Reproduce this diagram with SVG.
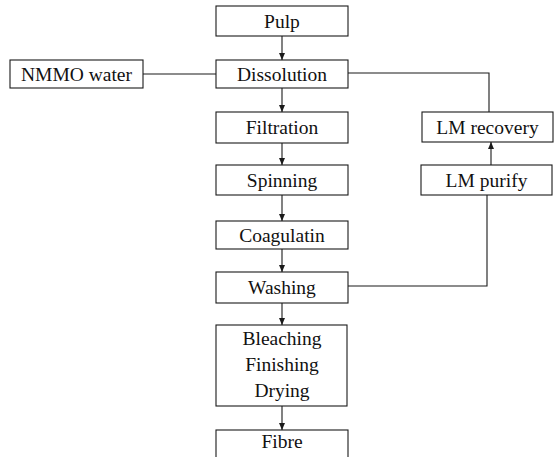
<svg xmlns="http://www.w3.org/2000/svg" width="558" height="457" viewBox="0 0 558 457">
<defs>
<style>
.box{fill:#fff;stroke:#1a1a1a;stroke-width:1.1}
.lbl{font-family:"Liberation Serif","Times New Roman",serif;font-size:19.5px;fill:#111;text-anchor:middle}
.ln{fill:none;stroke:#1a1a1a;stroke-width:1.1}
</style>
<marker id="ah" viewBox="0 0 7 6" refX="7" refY="3" markerWidth="7" markerHeight="6" markerUnits="userSpaceOnUse" orient="auto">
<path d="M0,0 L7,3 L0,6 z" fill="#1a1a1a"/>
</marker>
</defs>
<rect width="558" height="457" fill="#fff"/>
<g id="connectors">
<line class="ln" x1="282" y1="36" x2="282" y2="60" marker-end="url(#ah)"/>
<line class="ln" x1="282" y1="88" x2="282" y2="112" marker-end="url(#ah)"/>
<line class="ln" x1="282" y1="143" x2="282" y2="165" marker-end="url(#ah)"/>
<line class="ln" x1="282" y1="195" x2="282" y2="221" marker-end="url(#ah)"/>
<line class="ln" x1="282" y1="249" x2="282" y2="272" marker-end="url(#ah)"/>
<line class="ln" x1="282" y1="303" x2="282" y2="325" marker-end="url(#ah)"/>
<line class="ln" x1="282" y1="406" x2="282" y2="430" marker-end="url(#ah)"/>
<line class="ln" x1="143" y1="74" x2="216" y2="74"/>
<polyline class="ln" points="348,73 489,73 489,112"/>
<line class="ln" x1="491" y1="165" x2="491" y2="142" marker-end="url(#ah)"/>
<polyline class="ln" points="348,286 487,286 487,195"/>
</g>
<g id="pulp"><rect class="box" x="216" y="6" width="132" height="30"/><text class="lbl" x="282" y="27.5">Pulp</text></g>
<g id="nmmo"><rect class="box" x="10" y="60" width="133" height="28"/><text class="lbl" x="76.5" y="80.5">NMMO water</text></g>
<g id="dissolution"><rect class="box" x="216" y="60" width="132" height="28"/><text class="lbl" x="282" y="80.5">Dissolution</text></g>
<g id="filtration"><rect class="box" x="216" y="112" width="132" height="31"/><text class="lbl" x="282" y="134">Filtration</text></g>
<g id="spinning"><rect class="box" x="216" y="165" width="132" height="30"/><text class="lbl" x="282" y="186.5">Spinning</text></g>
<g id="coagulatin"><rect class="box" x="216" y="221" width="132" height="28"/><text class="lbl" x="282" y="241.5">Coagulatin</text></g>
<g id="washing"><rect class="box" x="216" y="272" width="132" height="31"/><text class="lbl" x="282" y="294">Washing</text></g>
<g id="bleaching"><rect class="box" x="216" y="325" width="131" height="81"/><text class="lbl" x="282" y="345">Bleaching</text><text class="lbl" x="282" y="371">Finishing</text><text class="lbl" x="282" y="397">Drying</text></g>
<g id="fibre"><rect class="box" x="216" y="430" width="132" height="40"/><text class="lbl" x="282" y="448">Fibre</text></g>
<g id="lmrecovery"><rect class="box" x="422" y="112" width="131" height="30"/><text class="lbl" x="487.5" y="133.5">LM recovery</text></g>
<g id="lmpurify"><rect class="box" x="421" y="165" width="131" height="30"/><text class="lbl" x="486.5" y="186.5">LM purify</text></g>
</svg>
